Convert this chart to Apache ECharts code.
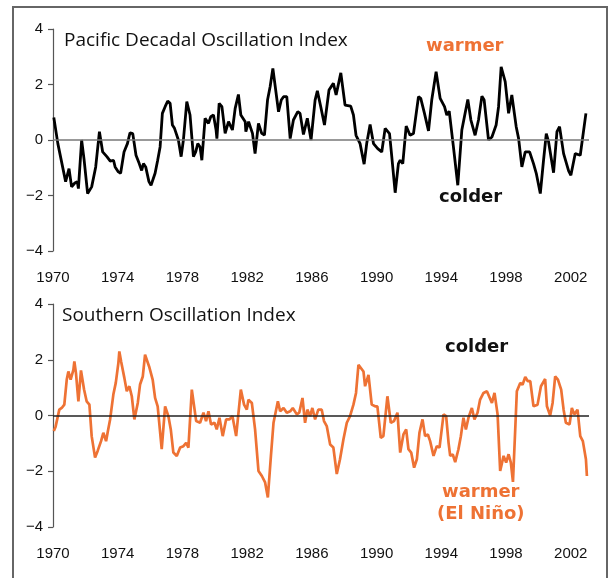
<!DOCTYPE html>
<html>
<head>
<meta charset="utf-8">
<script src="https://cdn.jsdelivr.net/npm/echarts@6/dist/echarts.min.js"></script>
<style>
html,body{margin:0;padding:0;background:#fff;}
#chart{width:613px;height:578px;}
</style>
</head>
<body>
<div id="chart"></div>
<script>
// Pacific Decadal Oscillation Index: [year, index]
const pdoData = [
  [1970.05,0.81],[1970.3,-0.13],[1970.78,-1.5],[1970.99,-1.03],[1971.15,-1.69],[1971.35,-1.55],[1971.5,-1.5],[1971.57,-1.75],[1971.77,0.0],[1971.92,-0.7],
  [1972.14,-1.93],[1972.39,-1.69],[1972.64,-0.97],[1972.87,0.3],[1973.07,-0.43],[1973.33,-0.6],[1973.54,-0.76],[1973.74,-0.73],[1973.84,-0.97],[1974.04,-1.15],
  [1974.18,-1.2],[1974.39,-0.43],[1974.6,-0.13],[1974.76,0.26],[1974.93,0.23],[1975.13,-0.55],[1975.33,-0.85],[1975.48,-1.1],[1975.59,-0.85],[1975.73,-0.97],
  [1975.93,-1.5],[1976.06,-1.63],[1976.31,-1.2],[1976.47,-0.73],[1976.62,-0.25],[1976.76,0.96],[1976.93,1.2],[1977.09,1.4],[1977.24,1.32],[1977.38,0.54],
  [1977.51,0.42],[1977.59,0.44],[1977.75,0.0],[1977.92,-0.6],[1978.06,0.0],[1978.27,1.38],[1978.47,0.9],[1978.68,-0.6],[1978.82,-0.43],[1978.95,-0.13],
  [1979.09,-0.25],[1979.2,-0.73],[1979.4,0.78],[1979.61,0.6],[1979.75,0.84],[1979.92,0.9],[1980.08,0.36],[1980.13,0.05],[1980.27,1.32],[1980.44,1.2],
  [1980.64,0.24],[1980.85,0.66],[1981.09,0.36],[1981.26,1.14],[1981.46,1.64],[1981.61,0.9],[1981.88,0.66],[1981.92,0.3],[1982.09,0.66],[1982.33,0.24],
  [1982.49,-0.49],[1982.7,0.6],[1982.9,0.24],[1983.07,0.18],[1983.26,1.44],[1983.42,1.92],[1983.59,2.58],[1983.7,2.58],[1983.94,1.02],[1984.11,1.44],
  [1984.25,1.56],[1984.45,1.56],[1984.66,0.05],[1984.86,0.72],[1985.13,1.02],[1985.27,0.96],[1985.48,0.2],[1985.72,0.78],[1985.95,0.0],[1986.2,1.44],
  [1986.34,1.77],[1986.55,1.2],[1986.78,0.54],[1987.06,1.8],[1987.33,2.04],[1987.5,1.62],[1987.6,1.68],[1987.79,2.42],[1988.05,1.26],[1988.4,1.22],
  [1988.57,0.9],[1988.73,0.17],[1988.98,-0.13],[1989.23,-0.87],[1989.39,-0.13],[1989.6,0.56],[1989.81,-0.13],[1990.07,-0.31],[1990.32,-0.43],[1990.53,0.42],
  [1990.8,0.23],[1990.94,-0.6],[1991.15,-1.9],[1991.35,-0.85],[1991.46,-0.73],[1991.62,-0.85],[1991.83,0.5],[1992.07,0.17],[1992.28,0.23],[1992.59,1.56],
  [1992.73,1.5],[1992.96,0.96],[1993.21,0.33],[1993.41,1.44],[1993.68,2.46],[1993.93,1.5],[1994.2,1.2],[1994.34,0.9],[1994.49,1.04],[1994.75,-0.25],
  [1995.02,-1.63],[1995.27,0.36],[1995.43,0.84],[1995.64,1.46],[1995.83,0.72],[1996.09,0.17],[1996.3,0.72],[1996.51,1.58],[1996.65,1.44],[1996.92,0.0],
  [1997.13,0.11],[1997.39,0.54],[1997.54,1.2],[1997.7,2.64],[1997.95,2.1],[1998.16,0.96],[1998.36,1.62],[1998.63,0.48],[1998.78,0.05],[1998.98,-0.97],
  [1999.19,-0.43],[1999.46,-0.43],[1999.7,-0.85],[1999.87,-1.2],[2000.12,-1.93],[2000.32,-0.73],[2000.49,0.23],[2000.63,-0.06],[2000.94,-1.18],[2001.15,0.3],
  [2001.31,0.48],[2001.56,-0.49],[2001.87,-1.11],[2002.01,-1.27],[2002.28,-0.49],[2002.59,-0.55],[2002.69,-0.6],[2002.94,0.96]
];

// Southern Oscillation Index: [year, index]
const soiData = [
  [1970.05,-0.56],[1970.16,-0.4],[1970.39,0.21],[1970.54,0.27],[1970.7,0.39],[1970.85,1.29],[1970.95,1.58],[1971.09,1.29],[1971.26,1.64],[1971.32,1.94],
  [1971.42,1.52],[1971.57,0.51],[1971.73,1.62],[1971.92,0.93],[1972.08,0.51],[1972.25,0.39],[1972.39,-0.74],[1972.6,-1.51],[1972.76,-1.27],[1972.97,-0.92],
  [1973.11,-0.62],[1973.28,-0.92],[1973.38,-0.6],[1973.53,-0.14],[1973.73,0.75],[1973.88,1.17],[1974.04,1.88],[1974.1,2.3],[1974.21,1.94],[1974.41,1.35],
  [1974.56,0.87],[1974.72,1.05],[1974.87,0.69],[1975.03,-0.14],[1975.24,0.45],[1975.38,1.11],[1975.55,1.4],[1975.69,2.18],[1975.94,1.76],[1976.16,1.29],
  [1976.31,0.63],[1976.47,0.33],[1976.72,-1.21],[1976.93,0.33],[1977.13,-0.02],[1977.28,-0.5],[1977.44,-1.33],[1977.65,-1.45],[1977.86,-1.15],[1978.06,-1.1],
  [1978.23,-0.98],[1978.37,-1.15],[1978.58,0.93],[1978.85,-0.2],[1979.09,-0.26],[1979.3,0.1],[1979.46,-0.2],[1979.61,0.15],[1979.77,-0.32],[1979.98,-0.26],
  [1980.12,-0.5],[1980.29,-0.08],[1980.49,-0.74],[1980.7,-0.14],[1980.91,-0.14],[1981.09,-0.02],[1981.32,-0.74],[1981.61,0.93],[1981.81,0.39],[1981.98,0.21],
  [1982.08,0.57],[1982.29,0.45],[1982.49,-0.5],[1982.7,-1.99],[1982.91,-2.17],[1983.11,-2.4],[1983.28,-2.94],[1983.47,-1.45],[1983.63,-0.26],[1983.9,0.51],
  [1984.04,0.15],[1984.25,0.27],[1984.45,0.1],[1984.66,0.15],[1984.82,0.27],[1985.07,0.04],[1985.22,0.1],[1985.42,0.63],[1985.58,-0.26],[1985.72,0.21],
  [1985.89,-0.02],[1986.03,0.27],[1986.2,-0.14],[1986.4,0.21],[1986.61,0.21],[1986.75,-0.2],[1986.92,-0.38],[1987.13,-1.04],[1987.33,-1.15],[1987.54,-2.1],
  [1987.74,-1.57],[1987.95,-0.86],[1988.16,-0.26],[1988.36,-0.02],[1988.57,0.39],[1988.73,0.81],[1988.88,1.82],[1988.98,1.88],[1989.19,1.58],[1989.29,1.05],
  [1989.5,1.46],[1989.7,0.39],[1989.91,0.33],[1990.05,0.33],[1990.26,-0.8],[1990.42,-0.74],[1990.67,0.69],[1990.88,-0.26],[1991.08,-0.2],[1991.29,0.1],
  [1991.46,-1.33],[1991.66,-0.68],[1991.83,-0.5],[1991.97,-1.21],[1992.14,-1.33],[1992.32,-1.87],[1992.49,-1.57],[1992.65,-0.62],[1992.84,-0.14],[1993.0,-0.74],
  [1993.17,-0.68],[1993.31,-0.92],[1993.52,-1.45],[1993.72,-1.1],[1993.89,-1.15],[1994.14,0.04],[1994.3,-0.02],[1994.45,-0.98],[1994.55,-1.45],[1994.71,-1.4],
  [1994.86,-1.67],[1995.06,-1.21],[1995.21,-0.74],[1995.37,-0.08],[1995.52,-0.5],[1995.68,-0.08],[1995.89,0.27],[1996.05,-0.14],[1996.24,0.1],[1996.4,0.57],
  [1996.61,0.81],[1996.82,0.87],[1997.13,0.45],[1997.29,0.81],[1997.48,0.04],[1997.64,-1.99],[1997.85,-1.45],[1998.01,-1.69],[1998.16,-1.39],[1998.3,-1.69],
  [1998.43,-2.38],[1998.57,-0.5],[1998.67,0.87],[1998.88,1.17],[1999.02,1.1],[1999.19,1.38],[1999.35,1.23],[1999.5,1.23],[1999.7,0.33],[1999.95,0.39],
  [2000.16,1.05],[2000.28,1.1],[2000.42,1.31],[2000.53,0.33],[2000.73,0.0],[2000.88,0.45],[2001.04,1.4],[2001.21,1.29],[2001.41,0.93],[2001.56,0.21],
  [2001.7,-0.26],[2001.93,-0.32],[2002.07,0.27],[2002.22,0.04],[2002.42,0.21],[2002.59,-0.74],[2002.75,-0.92],[2002.94,-1.57],[2003.0,-2.17]
];

const yTicks = [-4, -2, 0, 2, 4];
const xTickStart = 1970, xTickStep = 4, xMax = 2003.13;

const ORANGE = '#EE7234';

const tickFont = {fontFamily: "'Liberation Sans', Arial, sans-serif", fontSize: 15, color: '#111'};
const yLabelFmt = v => String(v).replace('-', '\u2212');

function xAxisCfg(idx) {
  return {
    gridIndex: idx, type: 'value', min: xTickStart, max: xMax, interval: xTickStep,
    axisLine: {show: false}, axisTick: {show: false}, splitLine: {show: false},
    axisLabel: Object.assign({margin: 19, formatter: v => String(v), showMaxLabel: false}, tickFont)
  };
}
function yAxisCfg(idx) {
  return {
    gridIndex: idx, type: 'value', min: yTicks[0], max: yTicks[yTicks.length - 1], interval: 2,
    axisLine: {show: true, lineStyle: {color: '#555', width: 1.2}},
    axisTick: {show: true, length: 5, lineStyle: {color: '#555', width: 1.2}},
    splitLine: {show: false},
    axisLabel: Object.assign({margin: 10, formatter: yLabelFmt}, tickFont)
  };
}

const chart = echarts.init(document.getElementById('chart'), null, {renderer: 'canvas'});
chart.setOption({
  animation: false,
  backgroundColor: '#fff',
  grid: [
    {left: 53, right: 24, top: 29, height: 222},
    {left: 53, right: 24, top: 304, height: 223}
  ],
  xAxis: [xAxisCfg(0), xAxisCfg(1)],
  yAxis: [yAxisCfg(0), yAxisCfg(1)],
  series: [
    {
      type: 'line', xAxisIndex: 0, yAxisIndex: 0, data: pdoData,
      showSymbol: false, lineStyle: {color: '#000', width: 2.8}, z: 3,
      markLine: {silent: true, symbol: 'none', label: {show: false},
        lineStyle: {color: '#777', type: 'solid', width: 1.5}, data: [{yAxis: 0}]}
    },
    {
      type: 'line', xAxisIndex: 1, yAxisIndex: 1, data: soiData,
      showSymbol: false, lineStyle: {color: ORANGE, width: 2.7}, z: 3,
      markLine: {silent: true, symbol: 'none', label: {show: false},
        lineStyle: {color: '#222', type: 'solid', width: 1.5}, data: [{yAxis: 0}]}
    }
  ],
  graphic: [
    {type: 'rect', shape: {x: 13, y: 7, width: 594, height: 620}, style: {fill: 'none', stroke: '#666', lineWidth: 2}, z: -1},
    {type: 'text', left: 64, top: 31, style: {text: 'Pacific Decadal Oscillation Index', font: "19px 'Open Sans', Lato, sans-serif", fill: '#111'}},
    {type: 'text', left: 62, top: 306, style: {text: 'Southern Oscillation Index', font: "19px 'Open Sans', Lato, sans-serif", fill: '#111'}},
    {type: 'text', left: 426, top: 37, style: {text: 'warmer', font: "bold 18px 'DejaVu Sans', sans-serif", fill: ORANGE}},
    {type: 'text', left: 439, top: 188, style: {text: 'colder', font: "bold 18px 'DejaVu Sans', sans-serif", fill: '#111'}},
    {type: 'text', left: 445, top: 338, style: {text: 'colder', font: "bold 18px 'DejaVu Sans', sans-serif", fill: '#111'}},
    {type: 'text', left: 442, top: 483, style: {text: 'warmer', font: "bold 18px 'DejaVu Sans', sans-serif", fill: ORANGE}},
    {type: 'text', left: 437, top: 505, style: {text: '(El Ni\u00f1o)', font: "bold 18px 'DejaVu Sans', sans-serif", fill: ORANGE}}
  ]
});
</script>
</body>
</html>
